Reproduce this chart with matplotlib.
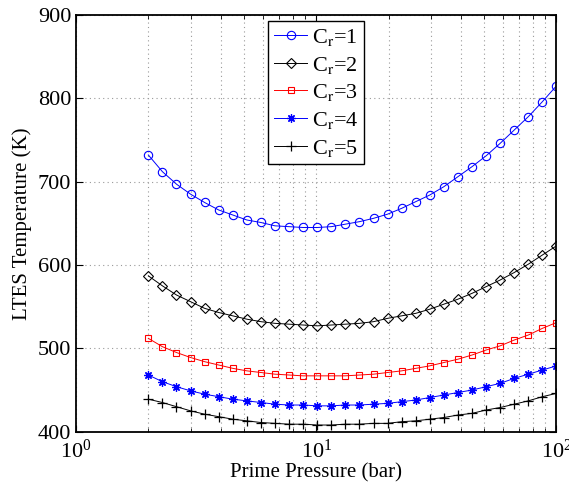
import numpy as np
import matplotlib
matplotlib.use("Agg")
import matplotlib.pyplot as plt
from matplotlib.ticker import LogLocator, MultipleLocator

plt.rcParams['font.family'] = ['Liberation Serif', 'DejaVu Serif']
plt.rcParams['mathtext.fontset'] = 'stix'

# pressure points (bar), 30 log-spaced samples between 2 and 100
pressure = np.geomspace(2, 100, 30)

temp_cr1 = [732, 712, 697, 685, 675, 666, 660, 654, 651, 647, 646, 645, 645, 646, 649,
            652, 656, 661, 668, 676, 684, 694, 706, 718, 731, 746, 762, 778, 796, 815]
temp_cr2 = [587, 575, 564, 556, 548, 543, 539, 535, 532, 530, 529, 528, 527, 528, 529,
            530, 532, 536, 539, 542, 547, 553, 559, 566, 574, 582, 591, 601, 612, 623]
temp_cr3 = [512, 502, 495, 489, 484, 480, 476, 473, 471, 469, 468, 467, 467, 467, 467,
            468, 469, 471, 473, 476, 479, 483, 487, 492, 498, 503, 510, 516, 524, 531]
temp_cr4 = [468, 460, 454, 449, 445, 442, 439, 437, 435, 433, 432, 432, 431, 431, 432,
            432, 433, 434, 436, 438, 441, 444, 447, 450, 454, 458, 464, 469, 474, 479]
temp_cr5 = [439, 435, 430, 425, 421, 418, 415, 413, 411, 410, 409, 409, 408, 408, 409,
            409, 410, 410, 412, 413, 415, 417, 420, 422, 426, 429, 433, 437, 442, 446]

labels = [r'C$_\mathrm{r}$=1', r'C$_\mathrm{r}$=2', r'C$_\mathrm{r}$=3',
          r'C$_\mathrm{r}$=4', r'C$_\mathrm{r}$=5']

fig = plt.figure(figsize=(5.69, 4.91), dpi=100)
ax = fig.add_axes([0.1336, 0.1208, 0.978 - 0.1336, 0.9695 - 0.1208])

styles = [
    dict(color='blue', marker='o', markersize=6, markerfacecolor='none', markeredgewidth=0.8),
    dict(color='black', marker='D', markersize=5, markerfacecolor='none', markeredgewidth=0.8),
    dict(color='red', marker='s', markersize=5, markerfacecolor='none', markeredgewidth=0.8),
    dict(color='blue', marker=(8, 2, 0), markersize=6, markeredgewidth=0.9),
    dict(color='black', marker='+', markersize=7, markeredgewidth=0.9),
]
series = [temp_cr1, temp_cr2, temp_cr3, temp_cr4, temp_cr5]
for y, lab, st in zip(series, labels, styles):
    ax.plot(pressure, y, linewidth=0.7, label=lab, **st)

ax.set_xscale('log')
ax.set_xlim(1, 100)
ax.set_ylim(400, 900)
ax.yaxis.set_major_locator(MultipleLocator(100))
ax.xaxis.set_major_locator(LogLocator(base=10, numticks=10))
ax.xaxis.set_minor_locator(LogLocator(base=10, subs=np.arange(2, 10), numticks=20))

ax.grid(True, which='major', axis='both', linestyle=(0, (1, 3)), color='#999999', linewidth=0.8)
ax.grid(True, which='minor', axis='x', linestyle=(0, (1, 3)), color='#999999', linewidth=0.8)

ax.tick_params(which='both', direction='in', top=True, right=True, labelsize=16)
ax.tick_params(which='major', length=5)
ax.tick_params(which='minor', length=3)
ax.tick_params(axis='x', pad=6)
for s in ax.spines.values():
    s.set_linewidth(1.3)

ax.set_xlabel('Prime Pressure (bar)', fontsize=15, labelpad=0)
ax.set_ylabel('LTES Temperature (K)', fontsize=15, labelpad=4)

leg = ax.legend(loc='upper center', bbox_to_anchor=(0.5, 0.99), fontsize=16,
                frameon=True, fancybox=False, edgecolor='black', framealpha=1,
                handlelength=1.5, handletextpad=0.2, labelspacing=0.3,
                borderpad=0.25, borderaxespad=0.1)
leg.get_frame().set_linewidth(1.0)

fig.savefig('out.png', dpi=100)
